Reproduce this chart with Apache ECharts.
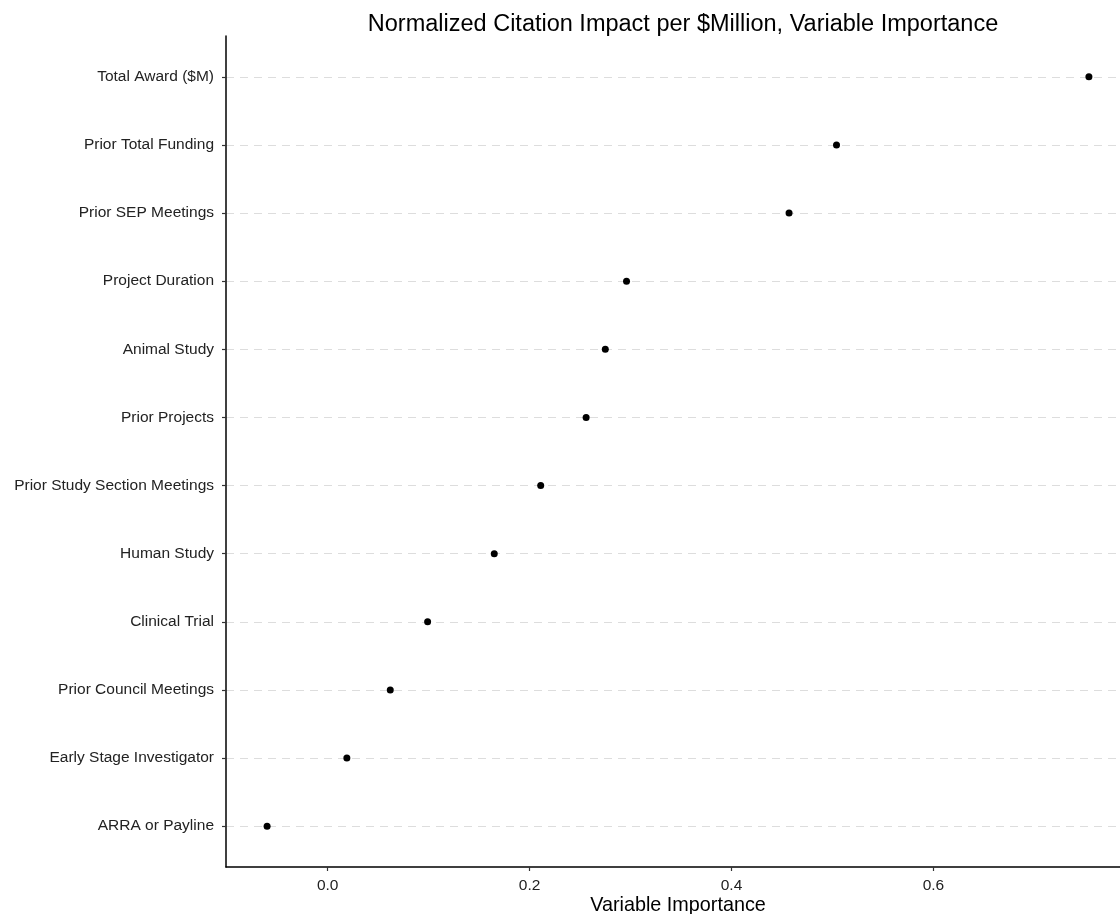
<!DOCTYPE html>
<html>
<head>
<meta charset="utf-8">
<script src="https://cdn.jsdelivr.net/npm/echarts@6/dist/echarts.min.js"></script>
<style>html,body{margin:0;padding:0;background:#fff;}#c{width:1120px;height:914px;}</style>
</head>
<body>
<div id="c"></div>
<script>
const categories = ["ARRA or Payline","Early Stage Investigator","Prior Council Meetings","Clinical Trial","Human Study","Prior Study Section Meetings","Prior Projects","Animal Study","Project Duration","Prior SEP Meetings","Prior Total Funding","Total Award ($M)"];
const importance = [-0.060, 0.019, 0.062, 0.099, 0.165, 0.211, 0.256, 0.275, 0.296, 0.457, 0.504, 0.754];
const xTicks = [0.0, 0.2, 0.4, 0.6];

const chart = echarts.init(document.getElementById('c'), null, {renderer:'canvas'});
const font = "Liberation Sans";
chart.setOption({
  animation: false,
  backgroundColor: '#fff',
  title: {
    text: 'Normalized Citation Impact per $Million, Variable Importance',
    left: 678, top: 8, textAlign: 'center',
    textStyle: {fontFamily: font, fontSize: 23.5, fontWeight: 'normal', color: '#000'}
  },
  grid: {left: 226, top: 36, width: 904, height: 831, outerBoundsMode: 'none', containLabel: false},
  xAxis: {
    type: 'value', min: -0.1007, max: 0.7947,
    name: 'Variable Importance', nameLocation: 'middle', nameGap: 29, nameMoveOverlap: false,
    nameTextStyle: {fontFamily: font, fontSize: 19.8, color: '#000', verticalAlign: 'top'},
    axisLine: {show: true, onZero: false, lineStyle: {color: '#000', width: 1.5}},
    axisTick: {show: true, length: 4, customValues: xTicks, lineStyle: {color: '#333', width: 1.2}},
    axisLabel: {customValues: xTicks, margin: 11, fontFamily: font, fontSize: 15.5, color: '#222',
      formatter: v => v.toFixed(1)},
    splitLine: {show: false}
  },
  yAxis: {
    type: 'value', min: -0.6, max: 11.6,
    axisLine: {show: true, onZero: false, lineStyle: {color: '#000', width: 1.5}},
    axisTick: {show: true, length: 4, customValues: categories.map((c, i) => i), lineStyle: {color: '#333', width: 1.2}},
    axisLabel: {customValues: categories.map((c, i) => i), margin: 12, fontFamily: font, fontSize: 15.5, color: '#222',
      formatter: v => categories[Math.round(v)]},
    splitLine: {show: true, lineStyle: {color: '#dddddd', type: [8, 6], width: 1}}
  },
  series: [{
    type: 'scatter',
    symbolSize: 7,
    itemStyle: {color: '#000', opacity: 1},
    data: importance.map((v, i) => [v, i])
  }]
});
</script>
</body>
</html>
